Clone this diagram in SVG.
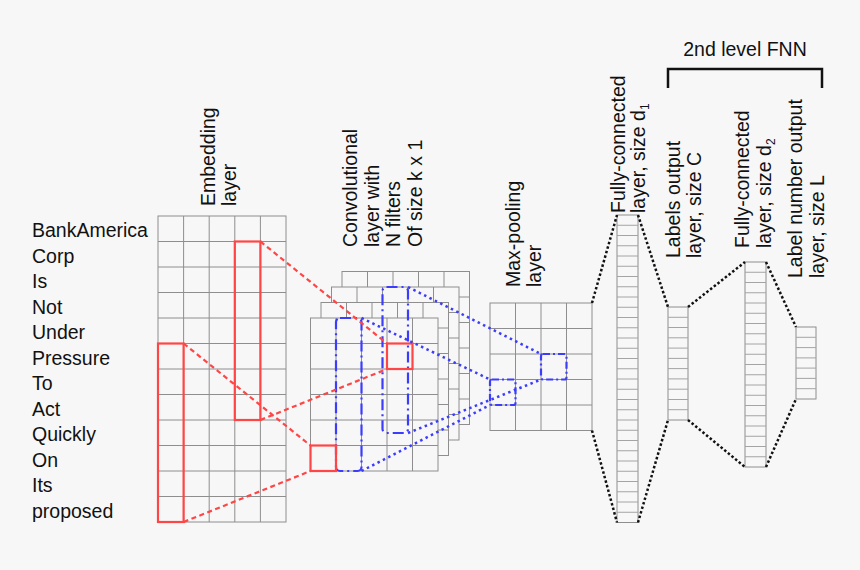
<svg xmlns="http://www.w3.org/2000/svg" xmlns:xlink="http://www.w3.org/1999/xlink" width="860" height="570" viewBox="0 0 860 570">
<style>
  text { font-family: "Liberation Sans", Arial, sans-serif; font-size: 19.5px; fill: #111; }
  .grid { fill: #f7f7f7; stroke: #8e8e8e; stroke-width: 1; }
  .gl { fill: none; stroke: #8e8e8e; stroke-width: 1; }
  .cl { fill: none; stroke: #a4a4a4; stroke-width: 1; }
  .red { fill: none; stroke: #ff4545; stroke-width: 2.2; }
  .blue { fill: none; stroke: #3c3cff; stroke-width: 2.2; stroke-dasharray: 11 4 2 4; }
  .redc { fill: none; stroke: #ff4545; stroke-width: 2.2; stroke-dasharray: 5 3.5; }
  .bluec { fill: none; stroke: #3c3cff; stroke-width: 2.5; stroke-dasharray: 2.5 3.5; }
  .blkc { fill: none; stroke: #111; stroke-width: 2.5; stroke-dasharray: 2.5 2.2; }
</style>
<defs>
  <g id="cg">
    <rect class="grid" x="0" y="0" width="127.5" height="153"/>
    <path class="gl" d="M25.5 0V153M51 0V153M76.5 0V153M102 0V153M0 25.5H127.5M0 51H127.5M0 76.5H127.5M0 102H127.5M0 127.5H127.5"/>
  </g>
</defs>
<rect x="0" y="0" width="860" height="570" fill="#f7f7f7"/>

<g id="words">
  <text x="32" y="237">BankAmerica</text>
  <text x="32" y="262.5">Corp</text>
  <text x="32" y="288">Is</text>
  <text x="32" y="313.5">Not</text>
  <text x="32" y="339">Under</text>
  <text x="32" y="364.5">Pressure</text>
  <text x="32" y="390">To</text>
  <text x="32" y="415.5">Act</text>
  <text x="32" y="441">Quickly</text>
  <text x="32" y="466.5">On</text>
  <text x="32" y="492">Its</text>
  <text x="32" y="517.5">proposed</text>
</g>

<g id="embedding">
  <rect class="grid" x="158" y="216" width="128" height="306"/>
  <path class="gl" d="M183.6 216V522M209.2 216V522M234.8 216V522M260.4 216V522M158 241.5H286M158 267H286M158 292.5H286M158 318H286M158 343.5H286M158 369H286M158 394.5H286M158 420H286M158 445.5H286M158 471H286M158 496.5H286"/>
  <rect class="red" x="158" y="343.5" width="25.6" height="178.5"/>
  <rect class="red" x="234.8" y="241.5" width="25.6" height="178.5"/>
  <text transform="translate(215,206) rotate(-90)"><tspan x="0" y="0">Embedding</tspan><tspan x="0" y="21">layer</tspan></text>
</g>

<g id="conv">
  <use xlink:href="#cg" x="342" y="271.5"/>
  <use xlink:href="#cg" x="331.5" y="287"/>
  <use xlink:href="#cg" x="321" y="302.5"/>
  <use xlink:href="#cg" x="310.5" y="318"/>
  <rect class="blue" x="382.5" y="287" width="25.5" height="146" rx="4"/>
  <rect class="blue" x="336" y="318" width="25.5" height="153" rx="4"/>
  <rect class="red" x="387" y="343.5" width="25.5" height="25.5"/>
  <rect class="red" x="310.5" y="445.5" width="25.5" height="25.5"/>
  <text transform="translate(357,247) rotate(-90)"><tspan x="0" y="0">Convolutional</tspan><tspan x="0" y="21.5">layer with</tspan><tspan x="0" y="43">N filters</tspan><tspan x="0" y="64.5">Of size k x 1</tspan></text>
</g>

<g id="maxpool">
  <rect class="grid" x="490" y="303" width="102" height="127.5"/>
  <path class="gl" d="M515.5 303V430.5M541 303V430.5M566.5 303V430.5M490 328.5H592M490 354H592M490 379.5H592M490 405H592"/>
  <rect class="blue" x="490" y="379.5" width="25.5" height="25.5" rx="2" style="stroke-dasharray: 7 3 2 3"/>
  <rect class="blue" x="541" y="354" width="25.5" height="25.5" rx="2" style="stroke-dasharray: 7 3 2 3"/>
  <text transform="translate(520,287) rotate(-90)"><tspan x="0" y="0">Max-pooling</tspan><tspan x="0" y="21">layer</tspan></text>
</g>

<g id="fc1">
  <rect class="grid" x="617" y="215" width="21" height="307.5"/>
  <path class="cl" d="M617 225.25H638M617 235.5H638M617 245.75H638M617 256H638M617 266.25H638M617 276.5H638M617 286.75H638M617 297H638M617 307.25H638M617 317.5H638M617 327.75H638M617 338H638M617 348.25H638M617 358.5H638M617 368.75H638M617 379H638M617 389.25H638M617 399.5H638M617 409.75H638M617 420H638M617 430.25H638M617 440.5H638M617 450.75H638M617 461H638M617 471.25H638M617 481.5H638M617 491.75H638M617 502H638M617 512.25H638"/>
  <text transform="translate(625,213) rotate(-90)"><tspan x="0" y="0">Fully-connected</tspan><tspan x="0" y="19.5">layer, size d</tspan><tspan font-size="12" dy="4">1</tspan></text>
</g>

<g id="labels-out">
  <rect class="grid" x="668" y="307" width="20" height="113"/>
  <path class="cl" d="M668 317.3H688M668 327.5H688M668 337.8H688M668 348.1H688M668 358.4H688M668 368.6H688M668 378.9H688M668 389.2H688M668 399.5H688M668 409.7H688"/>
  <text transform="translate(680,258) rotate(-90)"><tspan x="0" y="0">Labels output</tspan><tspan x="0" y="20.5">layer, size C</tspan></text>
</g>

<g id="fc2">
  <rect class="grid" x="745" y="262" width="21" height="205"/>
  <path class="cl" d="M745 272.25H766M745 282.5H766M745 292.75H766M745 303H766M745 313.25H766M745 323.5H766M745 333.75H766M745 344H766M745 354.25H766M745 364.5H766M745 374.75H766M745 385H766M745 395.25H766M745 405.5H766M745 415.75H766M745 426H766M745 436.25H766M745 446.5H766M745 456.75H766"/>
  <text transform="translate(749,248) rotate(-90)"><tspan x="0" y="0">Fully-connected</tspan><tspan x="0" y="21.5">layer, size d</tspan><tspan font-size="12" dy="4">2</tspan></text>
</g>

<g id="label-number">
  <rect class="grid" x="796" y="327" width="20" height="72"/>
  <path class="cl" d="M796 337.3H816M796 347.6H816M796 357.9H816M796 368.1H816M796 378.4H816M796 388.7H816"/>
  <text transform="translate(802,278) rotate(-90)"><tspan x="0" y="0">Label number output</tspan><tspan x="0" y="21.5">layer, size L</tspan></text>
</g>

<g id="fnn-bracket">
  <path d="M668 88V69H822V88" fill="none" stroke="#111" stroke-width="2.5"/>
  <text x="745" y="56" text-anchor="middle">2nd level FNN</text>
</g>

<g id="connectors">
  <path class="redc" d="M260.4 241.5L387 343.5M260.4 420L387 369M183.6 343.5L310.5 445.5M183.6 522L310.5 471"/>
  <path class="bluec" d="M408 287L541 354M361.5 318L490 379.5M408 433L541 379.5M361.5 471L490 405"/>
  <path class="blkc" d="M592 303L617 215M592 430.5L617 522.5M638 215L668 307M638 522.5L668 420M688 307L745 262M688 420L745 467M766 262L796 327M766 467L796 399"/>
</g>
</svg>
